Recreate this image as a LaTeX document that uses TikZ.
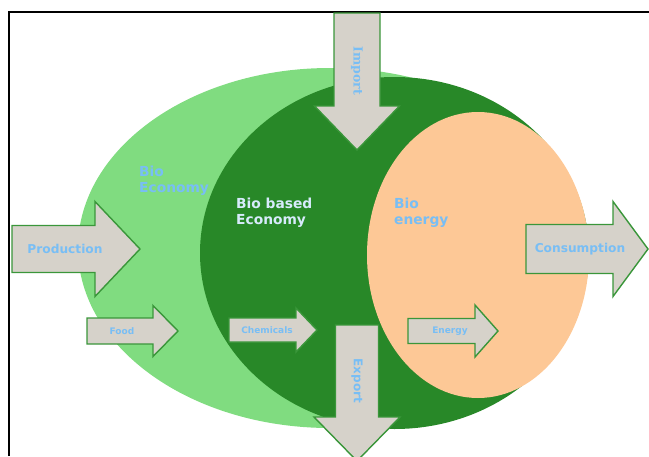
\documentclass[tikz,border=0pt]{standalone}
\usepackage{fontspec}
\usetikzlibrary{positioning, shapes.geometric}
\newfontfamily\labelfont{DejaVu Sans}
\newfontfamily\serifflow{DejaVu Serif}
\definecolor{biolight}{RGB}{128,220,128}
\definecolor{biodark}{RGB}{40,136,40}
\definecolor{bioenergy}{RGB}{253,200,150}
\definecolor{flowgray}{RGB}{214,210,202}
\definecolor{flowedge}{RGB}{58,150,58}
\definecolor{labelblue}{RGB}{120,190,245}
\definecolor{labelpale}{RGB}{215,235,252}
% right pointing block arrow: tail x, mid y, head base x, tip x, half body, half head
\newcommand{\rflow}[6]{%
  \draw[flow] (#1,{#2-#5}) -- (#3,{#2-#5}) -- (#3,{#2-#6}) -- (#4,#2)
    -- (#3,{#2+#6}) -- (#3,{#2+#5}) -- (#1,{#2+#5}) -- cycle;
}
% down pointing block arrow: mid x, tail y, head base y, tip y, half body, half head
\newcommand{\dflow}[6]{%
  \draw[flow] ({#1-#5},#2) -- ({#1-#5},#3) -- ({#1-#6},#3) -- (#1,#4)
    -- ({#1+#6},#3) -- ({#1+#5},#3) -- ({#1+#5},#2) -- cycle;
}

\begin{document}
\begin{tikzpicture}[
    % GLOBAL CFG
    x=1pt, y=-1pt,
    % Styles
    area/.style={% For the economy fields
        ellipse,
        inner sep=0pt,
    },
    flow/.style={% For block arrows
        fill=flowgray,
        draw=flowedge,
        line width=1.4pt,
        line join=miter,
    },
    arealabel/.style={% For field names
        font=\labelfont\bfseries\fontsize{13.8}{16}\selectfont,
        text=labelblue,
        align=left,
        inner sep=0pt,
        anchor=west,
    },
    flowlabel/.style={% For arrow names
        font=\labelfont\bfseries\fontsize{12.2}{13}\selectfont,
        text=labelblue,
        inner sep=0pt,
    },
    smalllabel/.style={% For small arrow names
        font=\labelfont\bfseries\fontsize{9}{10}\selectfont,
        text=labelblue,
        inner sep=0pt,
    },
    frame/.style={% For the border lines
        draw=black,
        line width=1.3pt,
    },
    ]

    \clip (0,0) rectangle (649,456);
    \useasboundingbox (0,0) rectangle (649,456);

    % Draw fields
    \node [area, fill=biolight, minimum width=504pt, minimum height=360pt] (bioeco) at (330,248) {};
    \node [area, fill=biodark, minimum width=389pt, minimum height=352pt] (biobased) at (394.5,253) {};
    \node [area, fill=bioenergy, minimum width=222pt, minimum height=286pt] (bioen) at (478,255) {};

    % Draw border
    \draw [frame] (9,456) -- (9,12) -- (649,12);

    % Draw arrows
    \rflow{12}{249}{95}{140}{23.5}{47.5}
    \rflow{87}{331}{153}{178}{13}{25.5}
    \rflow{229}{330}{296}{317}{12}{22}
    \rflow{408}{331}{475}{498}{12.5}{26}
    \rflow{526}{249}{613}{648}{24.5}{47.5}
    \dflow{357}{13}{106}{150}{23}{42.5}
    \dflow{357}{325}{417}{461}{21.5}{43}

    % Text
    \node [arealabel] (bioecotext) at (139,181) {Bio\\Economy};
    \node [arealabel, text=labelpale] (biobasedtext) at (236,213) {Bio based\\Economy};
    \node [arealabel] (bioentext) at (394,213) {Bio\\energy};

    \node [flowlabel] (production) at (65,249) {Production};
    \node [flowlabel] (consumption) at (580,249) {Consumption};
    \node [flowlabel, font=\serifflow\bfseries\fontsize{12.5}{13}\selectfont, rotate=-90] (import) at (357,71) {Import};
    \node [flowlabel, font=\labelfont\bfseries\fontsize{12}{13}\selectfont, rotate=-90] (export) at (357,381) {Export};
    \node [smalllabel] (food) at (122,331) {Food};
    \node [smalllabel] (chemicals) at (267,330) {Chemicals};
    \node [smalllabel] (energy) at (450,331) {Energy};

\end{tikzpicture}
\end{document}
